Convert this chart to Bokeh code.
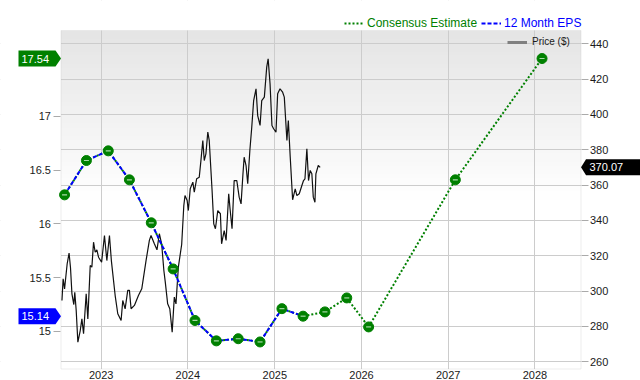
import pandas as pd
from bokeh.plotting import figure
from bokeh.models import (Range1d, LinearAxis, FixedTicker, NumeralTickFormatter,
                          DatetimeTickFormatter, Legend, LegendItem, Label,
                          PolyAnnotation, BoxAnnotation)
from bokeh.embed import file_html
from bokeh.resources import INLINE

# ---------------- data ----------------
eps_dates = ["2022-07-31", "2022-10-31", "2023-01-31", "2023-04-30", "2023-07-31", "2023-10-31",
             "2024-01-31", "2024-04-30", "2024-07-31", "2024-10-31", "2025-01-31", "2025-04-30"]
eps_values = [16.27, 16.59, 16.68, 16.41, 16.01, 15.58, 15.10, 14.91, 14.93, 14.90, 15.21, 15.14]

est_dates = ["2025-07-31", "2025-10-31", "2026-01-31", "2027-01-31", "2028-01-31"]
est_values = [15.18, 15.31, 15.04, 16.41, 17.54]

price_dates = [
    "2022-07-20", "2022-07-25", "2022-07-31", "2022-08-11", "2022-08-19", "2022-08-25", "2022-08-31",
    "2022-09-08", "2022-09-12", "2022-09-18", "2022-09-25", "2022-10-05", "2022-10-12", "2022-10-19",
    "2022-10-30", "2022-11-06", "2022-11-16", "2022-11-23", "2022-11-30", "2022-12-07", "2022-12-14",
    "2022-12-21", "2023-01-03", "2023-01-15", "2023-01-25", "2023-02-05", "2023-02-13", "2023-03-01",
    "2023-03-12", "2023-03-26", "2023-04-02", "2023-04-12", "2023-04-23", "2023-04-30", "2023-05-07",
    "2023-05-21", "2023-06-07", "2023-06-21", "2023-07-09", "2023-07-23", "2023-07-30", "2023-08-13",
    "2023-08-24", "2023-09-03", "2023-09-13", "2023-09-22", "2023-09-28", "2023-10-08", "2023-10-17",
    "2023-10-27", "2023-11-05", "2023-11-12", "2023-11-22", "2023-12-06", "2023-12-15", "2023-12-20",
    "2023-12-29", "2024-01-03", "2024-01-11", "2024-01-22", "2024-01-28", "2024-02-07", "2024-02-18",
    "2024-02-25", "2024-03-04", "2024-03-10", "2024-03-17", "2024-03-25", "2024-03-31", "2024-04-12",
    "2024-04-19", "2024-04-26", "2024-05-06", "2024-05-17", "2024-05-22", "2024-06-02", "2024-06-10",
    "2024-06-21", "2024-06-26", "2024-07-05", "2024-07-14", "2024-07-25", "2024-08-04", "2024-08-12",
    "2024-08-20", "2024-08-25", "2024-09-02", "2024-09-09", "2024-09-18", "2024-09-26", "2024-10-04",
    "2024-10-14", "2024-10-21", "2024-10-31", "2024-11-07", "2024-11-18", "2024-11-28", "2024-12-04",
    "2024-12-12", "2024-12-20", "2024-12-27", "2025-01-06", "2025-01-13", "2025-01-23", "2025-02-03",
    "2025-02-10", "2025-02-21", "2025-02-27", "2025-03-07", "2025-03-17", "2025-03-28", "2025-04-04",
    "2025-04-14", "2025-04-25", "2025-05-02", "2025-05-08", "2025-05-16", "2025-05-23", "2025-05-30",
    "2025-06-06", "2025-06-12", "2025-06-19", "2025-06-23", "2025-07-03", "2025-07-11"]
price_values = [
    294.7, 307.0, 301.3, 315.5, 321.5, 313.2, 298.5,
    292.4, 299.4, 289.0, 271.1, 277.7, 284.3, 275.9,
    298.5, 284.3, 314.5, 313.6, 327.7, 322.0, 323.4,
    319.2, 316.4, 331.5, 317.3, 331.5, 317.3, 297.5,
    287.2, 283.4, 294.7, 290.0, 300.4, 300.4, 290.0,
    291.9, 297.5, 301.3, 317.3, 328.7, 331.5, 326.8,
    323.4, 332.5, 326.4, 311.7, 305.1, 292.8, 290.0,
    276.8, 296.6, 292.8, 313.6, 326.4, 348.5, 354.1,
    351.3, 345.6, 357.9, 361.7, 356.0, 363.6, 364.5,
    373.9, 385.3, 373.9, 377.7, 390.0, 385.3, 357.0,
    338.1, 335.3, 345.6, 343.8, 326.8, 334.3, 328.7,
    355.1, 347.5, 335.3, 362.6, 362.6, 353.2, 349.4,
    366.4, 375.8, 371.1, 360.8, 379.6, 392.8, 407.9,
    414.5, 399.4, 393.8, 407.9, 409.8, 426.8, 431.5,
    417.4, 393.8, 391.9, 390.0, 411.7, 414.5, 412.6,
    409.8, 385.3, 396.6, 375.8, 351.7, 357.9, 354.1,
    355.1, 359.8, 362.6, 363.6, 380.6, 362.6, 368.3,
    366.4, 353.2, 350.3, 366.4, 371.1, 370.07]

eps_ticks = [15, 15.5, 16, 16.5, 17]
price_ticks = [260, 280, 300, 320, 340, 360, 380, 400, 420, 440]
year_ticks = [2023, 2024, 2025, 2026, 2027, 2028]

last_price = 370.07
last_eps = 15.14
last_est = 17.54

# ---------------- layout / style ----------------
FONT = "Liberation Sans"
GREEN = "#008000"
BLUE = "#0000ff"
GRID = "#cccccc"
BORDER = "#c4c4c4"
W, H = 640, 380
PL, PR, PT, PB = 60.5, 580.5, 30.0, 368.5      # plot-area edges in canvas pixels

# data limits of the plot area
X0, X1 = pd.Timestamp("2022-07-16"), pd.Timestamp("2028-07-13")
P0, P1 = 255.92, 447.53
E0, E1 = 14.648, 17.801


def extend(lo, hi, a, b, n):
    """values at pixel 0 and n, given lo at pixel a and hi at pixel b"""
    per = (hi - lo) / (b - a)
    return lo - per * a, hi + per * (n - b)


fx0, fx1 = extend(X0, X1, PL, PR, W)
fp0, fp1 = extend(P0, P1, H - PB, H - PT, H)
fe0, fe1 = extend(E0, E1, H - PB, H - PT, H)


def eps_on_price_scale(v):
    """position of an EPS value expressed on the (primary) price range"""
    return fp0 + (v - fe0) * (fp1 - fp0) / (fe1 - fe0)


p = figure(width=W, height=H, x_axis_type="datetime", y_axis_location="right",
           x_range=Range1d(fx0, fx1), y_range=Range1d(fp0, fp1),
           output_backend="svg", toolbar_location=None,
           min_border_left=0, min_border_right=0, min_border_top=0, min_border_bottom=0,
           background_fill_color="white", border_fill_color="white")
p.extra_y_ranges = {"eps": Range1d(fe0, fe1), "stub": Range1d(1e6, 2e6)}
p.outline_line_color = None

x0_ms = X0.value / 1e6
x1_ms = X1.value / 1e6

# gradient background (light grey at top fading to white)
N = 40
g_top, g_bot = P1, 352.0
for i in range(N):
    t0 = g_top - (g_top - g_bot) * i / N
    t1 = g_top - (g_top - g_bot) * (i + 1) / N
    c = int(229 + (255 - 229) * (i + 0.5) / N)
    p.add_layout(BoxAnnotation(left=x0_ms, right=x1_ms, top=t0, bottom=t1 - 0.4,
                               fill_color=f"#{c:02x}{c:02x}{c:02x}", fill_alpha=1,
                               line_color=None, level="image"))

# grids
p.grid.grid_line_color = GRID
p.grid.grid_line_width = 1

# white margins outside the plot area (cover the grid lines there)
for kw in [dict(right=x0_ms), dict(left=x1_ms), dict(bottom=P1), dict(top=P0)]:
    p.add_layout(BoxAnnotation(fill_color="white", fill_alpha=1, line_color=None,
                               level="underlay", **kw))
p.add_layout(BoxAnnotation(left=x0_ms, right=x1_ms, bottom=P0, top=P1, fill_alpha=0,
                           line_color=BORDER, line_width=1, level="underlay"))

# right (price) axis
ra = p.yaxis[0]
ra.fixed_location = x1_ms
ra.ticker = FixedTicker(ticks=price_ticks)
ra.axis_line_color = None
ra.major_tick_out = 7
ra.major_tick_in = 0
ra.major_tick_line_color = "#aaaaaa"
ra.minor_tick_line_color = None
ra.major_label_standoff = 2
ra.major_label_text_font = FONT
ra.major_label_text_font_size = "11px"
ra.major_label_text_color = "#1a1a1a"

# left (eps) axis
la = LinearAxis(y_range_name="eps", ticker=FixedTicker(ticks=eps_ticks),
                formatter=NumeralTickFormatter(format="0.[0]"), fixed_location=x0_ms)
la.axis_line_color = None
la.major_tick_out = 7
la.major_tick_in = 0
la.major_tick_line_color = "#aaaaaa"
la.minor_tick_line_color = None
la.major_label_standoff = 3
la.major_label_text_font = FONT
la.major_label_text_font_size = "11px"
la.major_label_text_color = "#1a1a1a"
p.add_layout(la, "left")

# bottom (time) axis
xa = p.xaxis[0]
xa.fixed_location = P0
xa.ticker = FixedTicker(ticks=[pd.Timestamp(f"{y}-01-01").value / 1e6 for y in year_ticks])
xa.formatter = DatetimeTickFormatter(years="%Y", months="%Y", days="%Y", hours="%Y")
xa.axis_line_color = None
xa.major_tick_line_color = None
xa.minor_tick_line_color = None
xa.major_tick_out = 0
xa.major_label_standoff = 2
xa.major_label_text_font = FONT
xa.major_label_text_font_size = "11px"
xa.major_label_text_color = "#1a1a1a"

# ---------------- glyphs ----------------
pdates = pd.to_datetime(price_dates)
p.line(pdates, price_values, line_color="#111111", line_width=1.2)

all_dates = pd.to_datetime(eps_dates + est_dates)
all_values = eps_values + est_values
r_cons = p.line(all_dates, all_values, y_range_name="eps", line_color=GREEN, line_width=2,
                line_dash="2 2")
r_eps = p.line(pd.to_datetime(eps_dates), eps_values, y_range_name="eps", line_color=BLUE,
               line_width=2, line_dash="4 2")
p.scatter(all_dates, all_values, y_range_name="eps", marker="circle", size=10,
          fill_color=GREEN, line_color=GREEN)
p.scatter(all_dates, all_values, y_range_name="eps", marker="dash", size=5,
          line_color="#a8d8a8", line_width=1.2)

# legend sample for the price series (grey, thick), drawn off-screen
r_price_leg = p.line(pdates, price_values, y_range_name="stub", line_color="#808080",
                     line_width=3)

# ---------------- legends ----------------
def add_legend(label, renderer, color, x, y, size, gw, standoff):
    lg = Legend(items=[LegendItem(label=label, renderers=[renderer])], location=(x, y),
                orientation="horizontal", padding=0, margin=0, spacing=0,
                glyph_width=gw, glyph_height=12, label_height=12, label_standoff=standoff,
                label_text_font=FONT, label_text_font_size=size, label_text_color=color,
                background_fill_alpha=0, border_line_alpha=0)
    p.add_layout(lg)

add_legend("Consensus Estimate", r_cons, GREEN, 344, H - 29.5, "12px", 20, 3)
add_legend("12 Month EPS", r_eps, BLUE, 481, H - 29.5, "12px", 20, 3)
add_legend("Price ($)", r_price_leg, "#1a1a1a", 507, H - 47.5, "10px", 20, 5)

# ---------------- value flags ----------------
hp = 8 * (P1 - P0) / (PB - PT)
for val, color in [(last_est, GREEN), (last_eps, BLUE)]:
    yc = eps_on_price_scale(val)
    p.add_layout(PolyAnnotation(xs=[18, 55, 60.5, 55, 18], xs_units="canvas",
                                ys=[yc + hp, yc + hp, yc, yc - hp, yc - hp], ys_units="data",
                                fill_color=color, fill_alpha=1, line_color=None, level="overlay"))
    p.add_layout(Label(x=21, x_units="canvas", y=yc, text=f"{val:.2f}",
                       text_color="white", text_font=FONT, text_font_size="11px",
                       text_baseline="middle", text_align="left", level="overlay"))

p.add_layout(PolyAnnotation(xs=[580.5, 585.5, 640, 640, 585.5], xs_units="canvas",
                            ys=[last_price, last_price + hp, last_price + hp,
                                last_price - hp, last_price - hp], ys_units="data",
                            fill_color="black", fill_alpha=1, line_color=None, level="overlay"))
p.add_layout(Label(x=589, x_units="canvas", y=last_price, text=f"{last_price:.2f}",
                   text_color="white", text_font=FONT, text_font_size="11px",
                   text_baseline="middle", text_align="left", level="overlay"))

open("out.html", "w").write(file_html(p, INLINE))
